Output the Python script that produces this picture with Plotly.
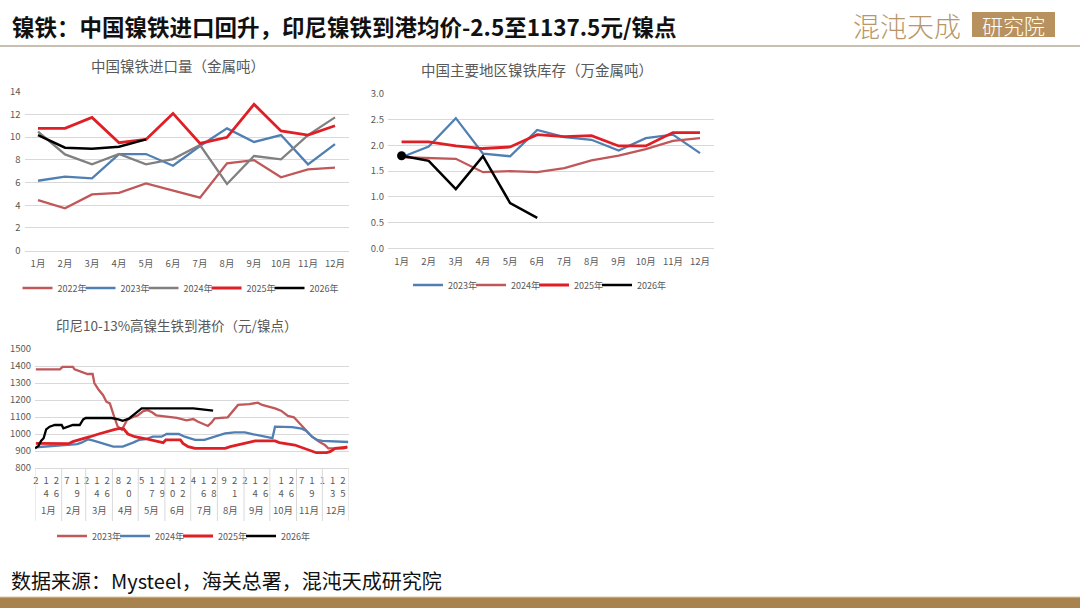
import plotly.graph_objects as go
import pandas as pd

W, H = 1080, 608
FONT = "Noto Sans CJK SC"
GREY_TXT = "#595959"
GRID = "#D9D9D9"

# ---------------- data ----------------
months = ["1月", "2月", "3月", "4月", "5月", "6月", "7月", "8月", "9月", "10月", "11月", "12月"]

# Chart 1: China nickel pig iron imports (metal tonnes)
imp_2022 = [4.46, 3.73, 4.96, 5.10, 5.93, 5.28, 4.67, 7.69, 7.98, 6.46, 7.16, 7.31]
imp_2023 = [6.16, 6.52, 6.37, 8.51, 8.51, 7.48, 9.22, 10.77, 9.57, 10.18, 7.60, 9.39]
imp_2024 = [10.48, 8.48, 7.60, 8.51, 7.60, 8.07, 9.30, 5.87, 8.34, 8.04, 10.18, 11.74]
imp_2025 = [10.77, 10.77, 11.74, 9.51, 9.80, 12.09, 9.45, 9.98, 12.89, 10.54, 10.18, 11.00]
imp_2026 = [10.18, 9.07, 8.98, 9.16, 9.80]

# Chart 2: inventory in main regions (10k metal tonnes)
inv_2023 = [1.77, 1.98, 2.53, 1.84, 1.79, 2.30, 2.16, 2.11, 1.90, 2.14, 2.21, 1.85]
inv_2024 = [1.77, 1.75, 1.74, 1.48, 1.50, 1.48, 1.56, 1.71, 1.80, 1.93, 2.09, 2.14]
inv_2025 = [2.07, 2.07, 1.99, 1.94, 1.97, 2.21, 2.17, 2.19, 1.99, 1.99, 2.25, 2.25]
inv_2026 = [1.80, 1.70, 1.15, 1.79, 0.88, 0.59]

# Chart 3: Indonesia 10-13% NPI CIF price (yuan / nickel point)
p23_d = ["01-02", "01-30", "02-02", "02-14", "02-16", "02-22", "02-27", "03-03", "03-09", "03-11",
         "03-16", "03-21", "03-25", "03-29", "04-03", "04-07", "04-12", "04-18", "04-25", "04-30",
         "05-07", "05-12", "05-17", "05-22", "06-03", "06-15", "06-26", "07-04", "07-09", "07-17",
         "07-21", "07-25", "07-29", "08-13", "08-18", "08-25", "09-07", "09-17", "09-22", "10-07",
         "10-14", "10-22", "10-29", "11-05", "11-11", "11-19", "11-27", "12-04", "12-08", "12-26",
         "12-30"]
p23_v = [1380, 1380, 1395, 1395, 1380, 1370, 1362, 1353, 1353, 1300,
         1260, 1230, 1190, 1180, 1102, 1045, 1025, 1082, 1100, 1108,
         1135, 1140, 1128, 1110, 1102, 1095, 1080, 1088, 1073, 1053,
         1047, 1067, 1092, 1098, 1131, 1171, 1176, 1184, 1171, 1151,
         1137, 1106, 1098, 1059, 1024, 984, 955, 935, 916, 916,
         926]
p24_d = ["01-02", "01-20", "02-09", "02-19", "02-24", "03-04", "03-11", "03-18", "03-26", "04-02",
         "04-13", "04-18", "04-25", "05-02", "05-10", "05-18", "05-28", "06-03", "06-17", "06-24",
         "06-29", "07-06", "07-17", "07-29", "08-10", "08-21", "09-02", "09-12", "09-25", "10-04",
         "10-07", "10-27", "11-07", "11-12", "11-19", "11-25", "12-01", "12-16", "12-24", "12-31"]
p24_v = [922, 928, 935, 940, 949, 969, 960, 949, 935, 926,
         926, 935, 949, 965, 970, 984, 984, 1000, 1000, 984,
         975, 965, 965, 984, 1004, 1010, 1010, 998, 984, 975,
         1043, 1040, 1031, 1020, 984, 965, 959, 955, 953, 953]
p25_d = ["01-02", "02-09", "02-14", "02-22", "03-06", "03-16", "03-25", "04-04", "04-10", "04-14",
         "04-19", "04-27", "05-07", "05-15", "05-22", "05-30", "06-02", "06-19", "06-22", "06-28",
         "07-06", "08-10", "08-16", "08-24", "09-02", "09-14", "10-07", "10-12", "10-30", "11-06",
         "11-19", "11-24", "12-06", "12-10", "12-16", "12-30"]
p25_v = [945, 943, 955, 965, 984, 1000, 1014, 1027, 1033, 1030,
         1000, 984, 975, 965, 955, 949, 965, 965, 945, 926,
         916, 916, 926, 935, 949, 959, 959, 949, 935, 922,
         896, 890, 890, 896, 916, 922]
p26_d = ["01-01", "01-05", "01-08", "01-11", "01-14", "01-18", "01-24", "02-01", "02-03", "02-09",
         "02-14", "02-22", "02-26", "03-01", "03-31", "04-08", "04-13", "04-20", "04-27", "05-05",
         "07-04", "07-14", "07-20", "07-27"]
p26_v = [916, 930, 959, 975, 1027, 1043, 1053, 1053, 1033, 1043,
         1053, 1053, 1086, 1094, 1094, 1086, 1078, 1090, 1121, 1151,
         1151, 1147, 1141, 1137.5]

tick_dates = ["01-02", "01-14", "01-26", "02-07", "02-19", "03-02", "03-14", "03-26", "04-08", "04-20",
              "05-05", "05-17", "05-29", "06-10", "06-22", "07-04", "07-16", "07-28", "08-09", "08-21",
              "09-02", "09-14", "09-26", "10-14", "10-26", "11-07", "11-19", "12-01", "12-13", "12-25"]

C_OLD = "#C0585A"
C_BLUE = "#4F7FB3"
C_GREY = "#808080"
C_RED = "#DE1F26"
C_BLACK = "#000000"

BASE_YEAR = "2023-"


def dt(lst):
    return [BASE_YEAR + d for d in lst]


def fx(px):
    return px / W


def fy(py):
    return 1 - py / H


fig = go.Figure()


def add_group(series, xa, ya, leg):
    n = len(series)
    for i, (name, xs, vals, col, wd) in enumerate(series):
        fig.add_trace(go.Scatter(x=xs, y=vals, name=name, mode="lines",
                                 line=dict(color=col, width=wd), xaxis=xa, yaxis=ya, legend=leg,
                                 legendwidth=(32 if i == n - 1 else None)))


# ---- chart 1 ----
add_group([("2022年", months[:len(imp_2022)], imp_2022, C_OLD, 2.3),
           ("2023年", months[:len(imp_2023)], imp_2023, C_BLUE, 2.3),
           ("2024年", months[:len(imp_2024)], imp_2024, C_GREY, 2.3),
           ("2025年", months[:len(imp_2025)], imp_2025, C_RED, 2.8),
           ("2026年", months[:len(imp_2026)], imp_2026, C_BLACK, 2.5)], "x", "y", "legend")

# ---- chart 2 ----
add_group([("2023年", months[:len(inv_2023)], inv_2023, C_BLUE, 2.3),
           ("2024年", months[:len(inv_2024)], inv_2024, C_OLD, 2.3),
           ("2025年", months[:len(inv_2025)], inv_2025, C_RED, 2.8),
           ("2026年", months[:len(inv_2026)], inv_2026, C_BLACK, 2.5)], "x2", "y2", "legend2")
fig.add_trace(go.Scatter(x=months[:1], y=inv_2026[:1], mode="markers", showlegend=False,
                         marker=dict(color=C_BLACK, size=9), xaxis="x2", yaxis="y2"))

# ---- chart 3 ----
add_group([("2023年", dt(p23_d), p23_v, C_OLD, 2.3),
           ("2024年", dt(p24_d), p24_v, C_BLUE, 2.3),
           ("2025年", dt(p25_d), p25_v, C_RED, 2.8),
           ("2026年", dt(p26_d), p26_v, C_BLACK, 2.3)], "x3", "y3", "legend3")

tickfont = dict(family=FONT, size=9.5, color=GREY_TXT)
cat_x = dict(type="category", range=[-0.5, 11.5], showgrid=False, showline=True, linecolor=GRID,
             ticks="", tickfont=tickfont, fixedrange=True, ticklabelstandoff=4, automargin=False)
val_y = dict(showgrid=True, gridcolor=GRID, gridwidth=1, zeroline=False, showline=False, ticks="",
             tickfont=tickfont, ticklabelstandoff=3, automargin=False)

month_starts = pd.date_range("2023-01-01", "2024-01-01", freq="MS")
mid_months = [s + (e - s) / 2 for s, e in zip(month_starts[:-1], month_starts[1:])]

tick_text = ["<br>".join(str(int(d.split("-")[1]))) for d in tick_dates]

fig.update_layout(
    template="none",
    width=W, height=H, margin=dict(l=0, r=0, t=0, b=0, pad=0, autoexpand=False),
    paper_bgcolor="white", plot_bgcolor="white",
    font=dict(family=FONT, color=GREY_TXT),
    xaxis=dict(cat_x, domain=[fx(24.5), fx(348.5)], anchor="y"),
    yaxis=dict(val_y, domain=[fy(250.7), fy(91.7)], range=[0, 14], dtick=2, anchor="x"),
    xaxis2=dict(cat_x, domain=[fx(388), fx(713.6)], anchor="y2"),
    yaxis2=dict(val_y, domain=[fy(248.3), fy(94)], range=[0, 3], dtick=0.5, tickformat=".1f", anchor="x2"),
    xaxis3=dict(type="date", range=["2023-01-01", "2024-01-01"], domain=[fx(35), fx(349)], anchor="y3",
                showgrid=False, showline=True, linecolor=GRID, ticks="", automargin=False,
                tickmode="array", tickvals=dt(tick_dates), ticktext=tick_text,
                tickfont=dict(family=FONT, size=9.5, color=GREY_TXT), ticklabelstandoff=4),
    yaxis3=dict(val_y, domain=[fy(468), fy(349)], range=[800, 1500], dtick=100, anchor="x3"),
    showlegend=True,
)

leg_common = dict(orientation="h", xanchor="center", yanchor="middle", bgcolor="rgba(0,0,0,0)",
                  font=dict(family=FONT, size=9, color=GREY_TXT), itemwidth=30, tracegroupgap=0,
                  entrywidth=18, itemclick=False, itemdoubleclick=False, borderwidth=0)
fig.update_layout(
    legend=dict(leg_common, x=fx(182), y=fy(288)),
    legend2=dict(leg_common, x=fx(541), y=fy(285)),
    legend3=dict(leg_common, x=fx(185), y=fy(536)),
)

shapes = []
annotations = []

# chart 3 category dividers
for s in month_starts:
    shapes.append(dict(type="line", xref="x3", yref="paper", x0=s, x1=s, y0=fy(468), y1=fy(521),
                       line=dict(color=GRID, width=1)))
for m, lab in zip(mid_months, months):
    annotations.append(dict(x=m, y=fy(510), xref="x3", yref="paper", text=lab, showarrow=False,
                            font=dict(family=FONT, size=9.5, color=GREY_TXT), xanchor="center", yanchor="middle"))

# chart titles
for txt, x, y, sz in [("中国镍铁进口量（金属吨）", 178, 66, 14.5), ("中国主要地区镍铁库存（万金属吨）", 537, 69, 14.5),
                      ("印尼10-13%高镍生铁到港价（元/镍点）", 176, 325, 13.5)]:
    annotations.append(dict(x=fx(x), y=fy(y), xref="paper", yref="paper", text=txt, showarrow=False,
                            font=dict(family=FONT, size=sz, color=GREY_TXT), xanchor="center", yanchor="middle"))

# header title
annotations.append(dict(x=fx(10), y=fy(26), xref="paper", yref="paper",
                        text="<b>镍铁：中国镍铁进口回升，印尼镍铁到港均价-2.5至1137.5元/镍点</b>",
                        showarrow=False, font=dict(family=FONT, size=22.5, color="#111111"),
                        xanchor="left", yanchor="middle"))
# header rule
shapes.append(dict(type="line", xref="paper", yref="paper", x0=0, x1=1, y0=fy(46), y1=fy(46),
                   line=dict(color="#C8C1B3", width=2)))
# logo
annotations.append(dict(x=fx(907), y=fy(25), xref="paper", yref="paper", text="混沌天成", showarrow=False,
                        font=dict(family=FONT, size=27, color="#B8966A", weight=300),
                        xanchor="center", yanchor="middle"))
shapes.append(dict(type="rect", xref="paper", yref="paper", x0=fx(972), x1=fx(1055), y0=fy(37), y1=fy(12),
                   fillcolor="#B8925E", line=dict(width=0)))
annotations.append(dict(x=fx(1013.5), y=fy(24.5), xref="paper", yref="paper", text="研究院", showarrow=False,
                        font=dict(family=FONT, size=21, color="white", weight=300),
                        xanchor="center", yanchor="middle"))

# footer
annotations.append(dict(x=fx(9), y=fy(580), xref="paper", yref="paper",
                        text="数据来源：Mysteel，海关总署，混沌天成研究院", showarrow=False,
                        font=dict(family=FONT, size=20, color="#111111"), xanchor="left", yanchor="middle"))
shapes.append(dict(type="rect", xref="paper", yref="paper", x0=0, x1=1, y0=0, y1=fy(597),
                   fillcolor="#A8834E", line=dict(width=0)))
shapes.append(dict(type="line", xref="paper", yref="paper", x0=0, x1=1, y0=fy(597), y1=fy(597),
                   line=dict(color="#D8C9A8", width=1)))

fig.update_layout(shapes=shapes, annotations=annotations)

fig.write_html("out.html", config={"displayModeBar": False},
               post_script="document.body.style.margin='0px';document.body.style.overflow='hidden';")
